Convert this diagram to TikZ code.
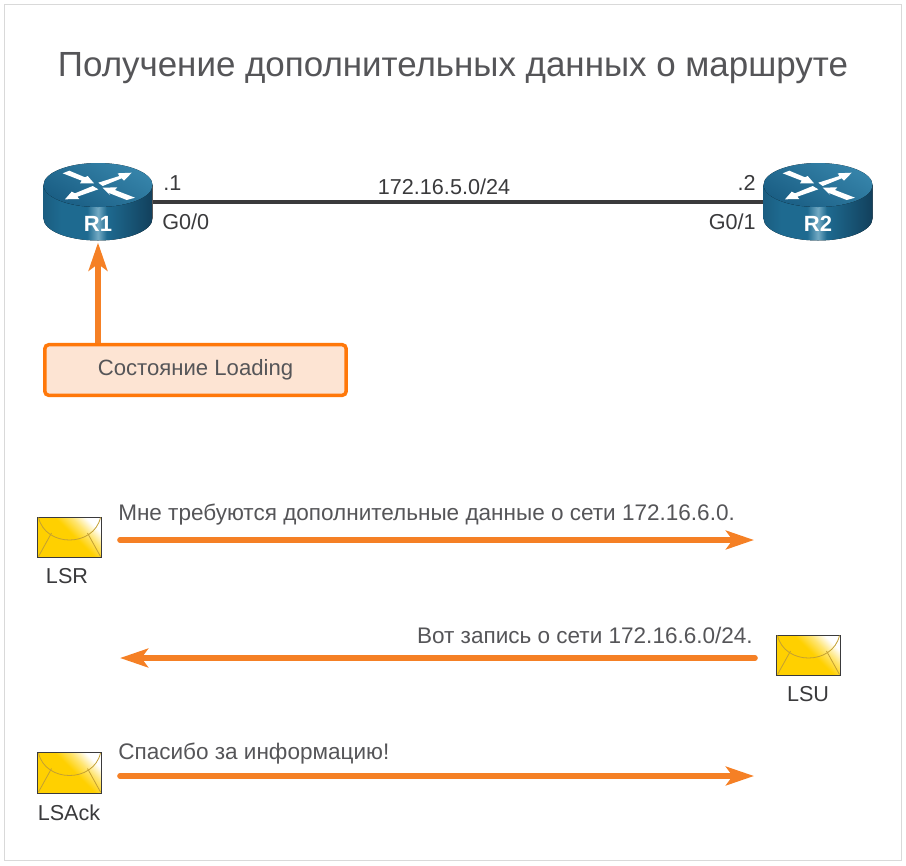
\documentclass[tikz,border=0pt]{standalone}
\usepackage{fontspec}
\setmainfont{Liberation Sans}
\usetikzlibrary{arrows.meta,positioning}
\definecolor{nettext}{RGB}{58,58,60}
\definecolor{msgtext}{RGB}{85,85,88}
\definecolor{netline}{RGB}{58,58,60}
\definecolor{netorange}{RGB}{245,128,37}
\definecolor{boxorange}{RGB}{255,120,10}
\definecolor{boxfill}{RGB}{253,228,211}
\definecolor{routerdark}{RGB}{18,64,92}
\definecolor{routermid}{RGB}{30,106,144}
\definecolor{routerlight}{RGB}{115,170,196}
\definecolor{routertop}{RGB}{54,132,170}
\definecolor{routerback}{RGB}{26,94,132}
\definecolor{envgold}{RGB}{255,208,0}
\definecolor{envline}{RGB}{196,160,50}
\pgfdeclarehorizontalshading{envshade}{100bp}{color(0bp)=(envgold); color(54bp)=(envgold); color(65bp)=(envgold!55!white); color(75bp)=(white); color(100bp)=(white)}
\pgfdeclarehorizontalshading{routerside}{100bp}{color(0bp)=(routermid!70!routerdark); color(25bp)=(routermid!70!routerdark); color(33bp)=(routermid); color(45bp)=(routermid); color(50bp)=(routerlight); color(54bp)=(routermid); color(75bp)=(routerdark); color(100bp)=(routerdark)}
\newcommand{\routericon}[1]{%
  \begin{scope}[shift={(#1)}]
    \fill[shading=routerside] (-54.5,-17) -- (-54.5,16.5) arc[start angle=180,end angle=0,x radius=54.5,y radius=22] -- (54.5,-17) -- cycle;
    \fill[left color=routertop, right color=routerback, shading angle=-30] (0,-17) ellipse[x radius=54.5,y radius=22];
    \fill[white] (-28.7,-31.3) -- (-13,-24.7) -- (-10.3,-26) -- (-4,-18.7) -- (-18,-18.7) -- (-16.3,-21.3) -- (-35.3,-28.7) -- cycle;
    \fill[white] (0.3,-19.3) -- (21.3,-26) -- (19.7,-28.7) -- (33.7,-29.3) -- (26,-21.3) -- (23.7,-23.7) -- (4.7,-16) -- cycle;
    \fill[white] (-5.3,-16) -- (-23,-8.7) -- (-26.3,-10.3) -- (-33,-2.7) -- (-18.7,-3) -- (-20.7,-5.3) -- (0.3,-12.7) -- cycle;
    \fill[white] (4.7,-14.3) -- (19.3,-14.7) -- (17,-12) -- (37,-4.3) -- (28.7,-2) -- (10.3,-9.3) -- (12,-7) -- cycle;
  \end{scope}}
\newcommand{\envelopeflap}[1]{%
  \begin{scope}[shift={(#1.center)}]
    \draw[envline, line width=0.6pt] (-31,-20) .. controls (-24,10) and (24,10) .. (31,-20);
    \draw[envline, line width=0.6pt] (-18,-4.5) -- (-31,19) (18,-4.5) -- (31,19);
  \end{scope}}
\begin{document}
\begin{tikzpicture}[x=0.75pt,y=-0.75pt,
  router/.style={rectangle, draw=none, minimum width=81.75pt, minimum height=58.5pt, inner sep=0pt},
  routername/.style={text=white, font=\fontsize{16.5}{18}\selectfont\bfseries, inner sep=0pt},
  ifacelabel/.style={text=nettext, font=\fontsize{16.2}{18}\selectfont, inner sep=0pt},
  msglabel/.style={text=msgtext, font=\fontsize{16.9}{18}\selectfont, inner sep=0pt},
  envelope/.style={rectangle, draw=netline, line width=0.7pt, shading=envshade, shading angle=45,
                   minimum width=47.5pt, minimum height=30.5pt, inner sep=0pt},
  msgarrow/.style={line width=4.2pt, draw=netorange, line cap=round,
                   -{Stealth[length=21pt,width=14pt,inset=5pt]}},
  statebox/.style={rectangle, rounded corners=3pt, draw=boxorange, line width=2.6pt, fill=boxfill,
                   minimum width=226pt, minimum height=38pt, text=msgtext,
                   font=\fontsize{16.6}{18}\selectfont}]
\useasboundingbox (0,0) rectangle (906,865);
\draw[black!15, line width=0.75pt] (4,4) rectangle (901,860);
\node[text=msgtext, font=\fontsize{26.2}{30}\selectfont, inner sep=0pt] (title) at (453,68)
  {Получение дополнительных данных о маршруте};
% routers
\routericon{98,202}
\routericon{818,202}
\node[router] (r1) at (98,202) {};
\node[router] (r2) at (818,202) {};
\node[routername] (r1name) at (98,224) {R1};
\node[routername] (r2name) at (818,224) {R2};
\draw[line width=3pt, netline] (r1.east) -- (r2.west);
\node[ifacelabel] (net) at (444,187) {172.16.5.0/24};
\node[ifacelabel, anchor=west] (r1ip) at (163,183) {.1};
\node[ifacelabel, anchor=west] (r1port) at (162,222) {G0/0};
\node[ifacelabel, anchor=east] (r2ip) at (756,183) {.2};
\node[ifacelabel, anchor=east] (r2port) at (756,222) {G0/1};
% state
\node[statebox] (state) at (195.5,370) {Состояние Loading};
\draw[line width=4.2pt, netorange, -{Stealth[length=21pt,width=14pt,inset=5pt]}] (state.north -| r1.south) -- ([yshift=-1pt]r1.south);
% messages
\node[envelope] (lsr) at (69.5,537.5) {};
\envelopeflap{lsr}
\node[ifacelabel] (lsrname) at (67,576) {LSR};
\node[msglabel, anchor=west] (lsrtext) at (118,515) {Мне требуются дополнительные данные о сети 172.16.6.0.};
\coordinate (lsrfrom) at (120,540);
\coordinate (lsrto) at (754,540);
\draw[msgarrow] (lsrfrom) -- (lsrto);
\node[envelope] (lsu) at (808.5,655.5) {};
\envelopeflap{lsu}
\node[ifacelabel] (lsuname) at (808,694) {LSU};
\node[msglabel, anchor=east] (lsutext) at (753,635) {Вот запись о сети 172.16.6.0/24.};
\coordinate (lsufrom) at (755,658);
\coordinate (lsuto) at (120,658);
\draw[msgarrow] (lsufrom) -- (lsuto);
\node[envelope] (lsack) at (69.5,773) {};
\envelopeflap{lsack}
\node[ifacelabel] (lsackname) at (69,813) {LSAck};
\node[msglabel, anchor=west] (lsacktext) at (118,753.5) {Спасибо за информацию!};
\coordinate (lsackfrom) at (120,776);
\coordinate (lsackto) at (754,776);
\draw[msgarrow] (lsackfrom) -- (lsackto);
\end{tikzpicture}
\end{document}
